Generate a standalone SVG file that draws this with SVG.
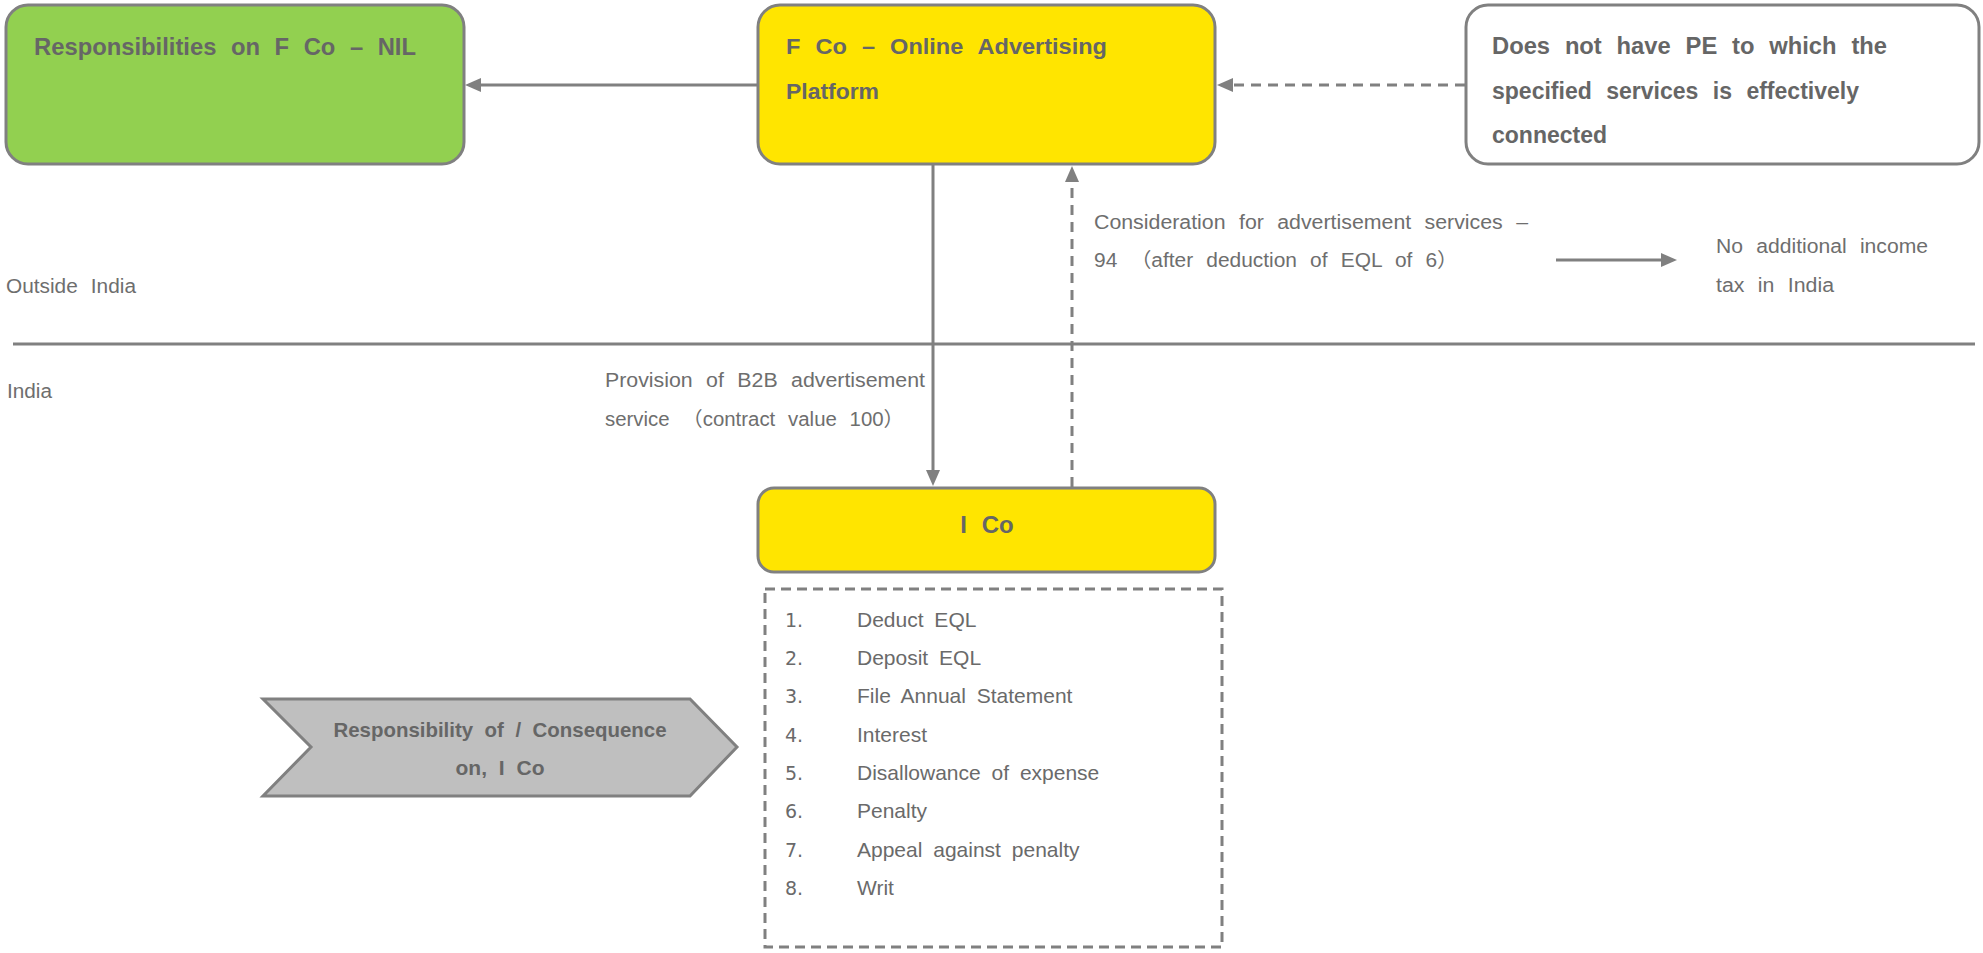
<svg xmlns="http://www.w3.org/2000/svg" width="1983" height="953" viewBox="0 0 1983 953">
  <style>
    .box { stroke: #808080; stroke-width: 3; }
    .green { fill: #92D050; }
    .yellow { fill: #FFE500; }
    .white { fill: #FFFFFF; }
    .chev { fill: #BFBFBF; stroke: #808080; stroke-width: 3; }
    .bold { font-family: "Liberation Sans Narrow", "Liberation Sans", Arial, sans-serif; font-weight: bold; fill: #666666; word-spacing: 8px; }
    .label { font-family: "Liberation Sans Narrow", "Liberation Sans", Arial, "Noto Sans CJK SC", sans-serif; fill: #6e6e6e; font-size: 20px; word-spacing: 7px; }
    .item { font-family: "Liberation Sans", Arial, sans-serif; fill: #6a6a6a; font-size: 21px; word-spacing: 5px; }
    .num { font-family: "DejaVu Sans", "Liberation Sans", sans-serif; fill: #6a6a6a; font-size: 19px; }
    .center { font-family: "Liberation Sans", Arial, sans-serif; font-weight: bold; fill: #666666; }
    .line { fill: none; stroke: #808080; stroke-width: 3; }
    .dash { stroke-dasharray: 10 7; }
  </style>
  <defs>
    <marker id="head" viewBox="0 0 16 14" markerWidth="16" markerHeight="14" refX="1" refY="7" markerUnits="userSpaceOnUse" orient="auto">
      <path d="M0,0 L16,7 L0,14 z" fill="#808080"/>
    </marker>
  </defs>

  <rect width="1983" height="953" fill="#FFFFFF"/>

  <!-- jurisdiction separator and region labels -->
  <g id="regions">
    <line class="line" x1="13" y1="344" x2="1975" y2="344"/>
    <text class="label" x="6" y="293" textLength="130" lengthAdjust="spacingAndGlyphs">Outside India</text>
    <text class="label" x="7" y="398" textLength="45" lengthAdjust="spacingAndGlyphs">India</text>
  </g>

  <!-- connectors -->
  <g id="connectors">
    <path class="line" d="M757,85 H480" marker-end="url(#head)"/>
    <path class="line dash" d="M1465,85 H1232" marker-end="url(#head)"/>
    <path class="line" d="M933,164 V471" marker-end="url(#head)"/>
    <path class="line dash" d="M1072,487 V181" marker-end="url(#head)"/>
    <path class="line" d="M1556,260 H1662" marker-end="url(#head)"/>
  </g>

  <!-- connector labels -->
  <g id="edge-labels">
    <text class="label" x="605" y="387" textLength="320" lengthAdjust="spacingAndGlyphs">Provision of B2B advertisement</text>
    <text class="label" x="605" y="426" textLength="299" lengthAdjust="spacingAndGlyphs">service （contract value 100）</text>
    <text class="label" x="1094" y="229" textLength="434" lengthAdjust="spacingAndGlyphs">Consideration for advertisement services –</text>
    <text class="label" x="1094" y="267" textLength="364" lengthAdjust="spacingAndGlyphs">94 （after deduction of EQL of 6）</text>
    <text class="label" x="1716" y="253" textLength="212" lengthAdjust="spacingAndGlyphs">No additional income</text>
    <text class="label" x="1716" y="292" textLength="118" lengthAdjust="spacingAndGlyphs">tax in India</text>
  </g>

  <g id="node-fco-responsibilities">
    <rect class="box green" x="6" y="5" width="458" height="159" rx="22" ry="22"/>
    <text class="bold" x="34" y="55" font-size="24" textLength="382" lengthAdjust="spacingAndGlyphs">Responsibilities on F Co – NIL</text>
  </g>

  <g id="node-fco">
    <rect class="box yellow" x="758" y="5" width="457" height="159" rx="22" ry="22"/>
    <text class="bold" x="786" y="54" font-size="22" textLength="321" lengthAdjust="spacingAndGlyphs">F Co – Online Advertising</text>
    <text class="bold" x="786" y="99" font-size="22" textLength="93" lengthAdjust="spacingAndGlyphs">Platform</text>
  </g>

  <g id="node-no-pe">
    <rect class="box white" x="1466" y="5" width="513" height="159" rx="22" ry="22"/>
    <text class="bold" x="1492" y="54" font-size="23" textLength="395" lengthAdjust="spacingAndGlyphs">Does not have PE to which the</text>
    <text class="bold" x="1492" y="99" font-size="23" textLength="367" lengthAdjust="spacingAndGlyphs">specified services is effectively</text>
    <text class="bold" x="1492" y="143" font-size="23" textLength="115" lengthAdjust="spacingAndGlyphs">connected</text>
  </g>

  <g id="node-ico">
    <rect class="box yellow" x="758" y="488" width="457" height="84" rx="16" ry="16"/>
    <text class="center" x="987" y="533" font-size="24" text-anchor="middle" word-spacing="8">I Co</text>
  </g>

  <g id="node-ico-list">
    <rect x="765" y="589" width="457" height="358" fill="none" stroke="#808080" stroke-width="3" stroke-dasharray="10 6"/>
    <text class="num" x="785" y="627">1.</text>
    <text class="item" x="857" y="627">Deduct EQL</text>
    <text class="num" x="785" y="665">2.</text>
    <text class="item" x="857" y="665">Deposit EQL</text>
    <text class="num" x="785" y="703">3.</text>
    <text class="item" x="857" y="703">File Annual Statement</text>
    <text class="num" x="785" y="742">4.</text>
    <text class="item" x="857" y="742">Interest</text>
    <text class="num" x="785" y="780">5.</text>
    <text class="item" x="857" y="780">Disallowance of expense</text>
    <text class="num" x="785" y="818">6.</text>
    <text class="item" x="857" y="818">Penalty</text>
    <text class="num" x="785" y="857">7.</text>
    <text class="item" x="857" y="857">Appeal against penalty</text>
    <text class="num" x="785" y="895">8.</text>
    <text class="item" x="857" y="895">Writ</text>
  </g>

  <g id="node-consequence">
    <polygon class="chev" points="263,699 690,699 737,747 690,796 263,796 311,747"/>
    <text class="center" x="500" y="737" font-size="21" text-anchor="middle" word-spacing="6" textLength="333" lengthAdjust="spacingAndGlyphs">Responsibility of / Consequence</text>
    <text class="center" x="500" y="775" font-size="21" text-anchor="middle" word-spacing="6">on, I Co</text>
  </g>
</svg>
